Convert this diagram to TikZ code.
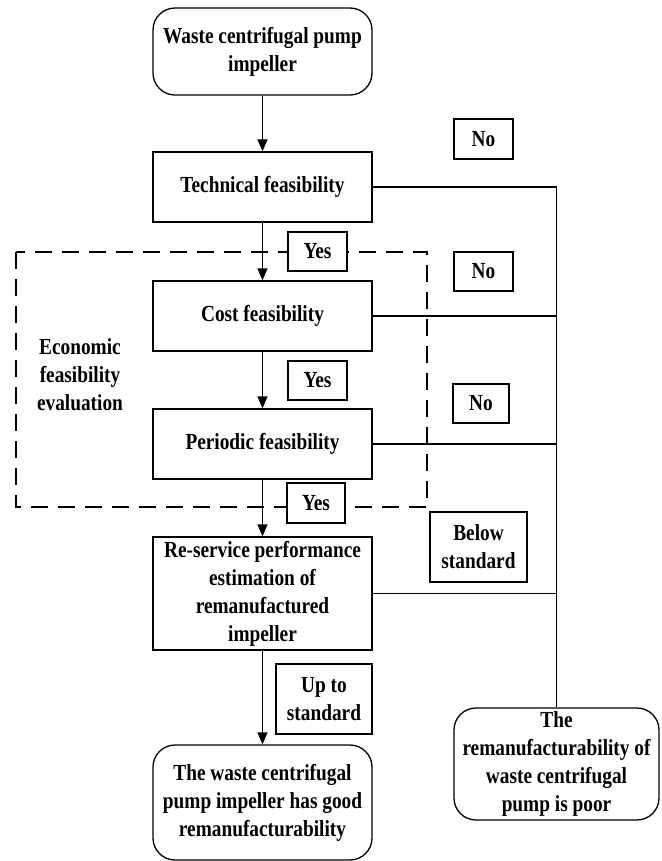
\documentclass[tikz,border=0pt]{standalone}
\usepackage{fontspec}
\setmainfont[FakeStretch=0.84]{Liberation Serif}
\usetikzlibrary{arrows.meta}
\begin{document}
\begin{tikzpicture}[x=1pt,y=-1pt,
  base/.style={draw,line width=1.3pt,fill=white,align=center,inner sep=2pt,
    font=\fontsize{23}{28}\selectfont\bfseries},
  procbox/.style={base,minimum width=219pt},
  roundbox/.style={base,rounded corners=22pt},
  tagbox/.style={base,minimum height=39pt},
  link/.style={line width=1.3pt},
  flow/.style={link,-{Triangle[length=12pt,width=10pt]}}]
\useasboundingbox (0,0) rectangle (661,861);

% evaluation group frame
\draw[line width=1.1pt,dash pattern=on 17pt off 10pt] (16,252) rectangle (427,507);
\node[font=\fontsize{23}{28}\selectfont\bfseries,align=center] (econ) at (80,375)
  {Economic\\feasibility\\evaluation};

% main column
\node[roundbox,minimum width=219pt,minimum height=87pt] (start) at (262.5,51.5)
  {Waste centrifugal pump\\impeller};
\node[procbox,minimum height=70pt] (tech) at (262.5,187) {Technical feasibility};
\node[procbox,minimum height=70pt] (cost) at (262.5,316) {Cost feasibility};
\node[procbox,minimum height=70pt] (period) at (262.5,444) {Periodic feasibility};
\node[procbox,minimum height=113pt] (reserv) at (262.5,593.5)
  {Re-service performance\\estimation of\\remanufactured\\impeller};
\node[roundbox,minimum width=219pt,minimum height=115pt] (good) at (262.5,802.5)
  {The waste centrifugal\\pump impeller has good\\remanufacturability};
\node[roundbox,minimum width=205pt,minimum height=112pt] (poor) at (556.5,764)
  {The\\remanufacturability of\\waste centrifugal\\pump is poor};

% flow arrows
\draw[flow] (start) -- (tech);
\draw[flow] (tech) -- (cost);
\draw[flow] (cost) -- (period);
\draw[flow] (period) -- (reserv);
\draw[flow] (reserv) -- (good);

% rejection paths
\draw[link] (tech.east) -| (poor.north);
\draw[link] (cost.east) -- (cost.east -| poor.north);
\draw[link] (period.east) -- (period.east -| poor.north);
\draw[link] (reserv.east) -- (reserv.east -| poor.north);

% condition labels
\node[tagbox,minimum width=59pt,minimum height=40pt] (no1) at (483.5,139) {No};
\node[tagbox,minimum width=59pt] (yes1) at (317.5,251.5) {Yes};
\node[tagbox,minimum width=59pt] (no2) at (483.5,271.5) {No};
\node[tagbox,minimum width=59pt] (yes2) at (317.5,380.5) {Yes};
\node[tagbox,minimum width=56pt] (no3) at (481,403.5) {No};
\node[tagbox,minimum width=58pt,minimum height=40pt] (yes3) at (316,503) {Yes};
\node[tagbox,minimum width=97pt,minimum height=70pt] (below) at (478.5,547) {Below\\standard};
\node[tagbox,minimum width=96pt,minimum height=70pt] (upto) at (324,699) {Up to\\standard};
\end{tikzpicture}
\end{document}
